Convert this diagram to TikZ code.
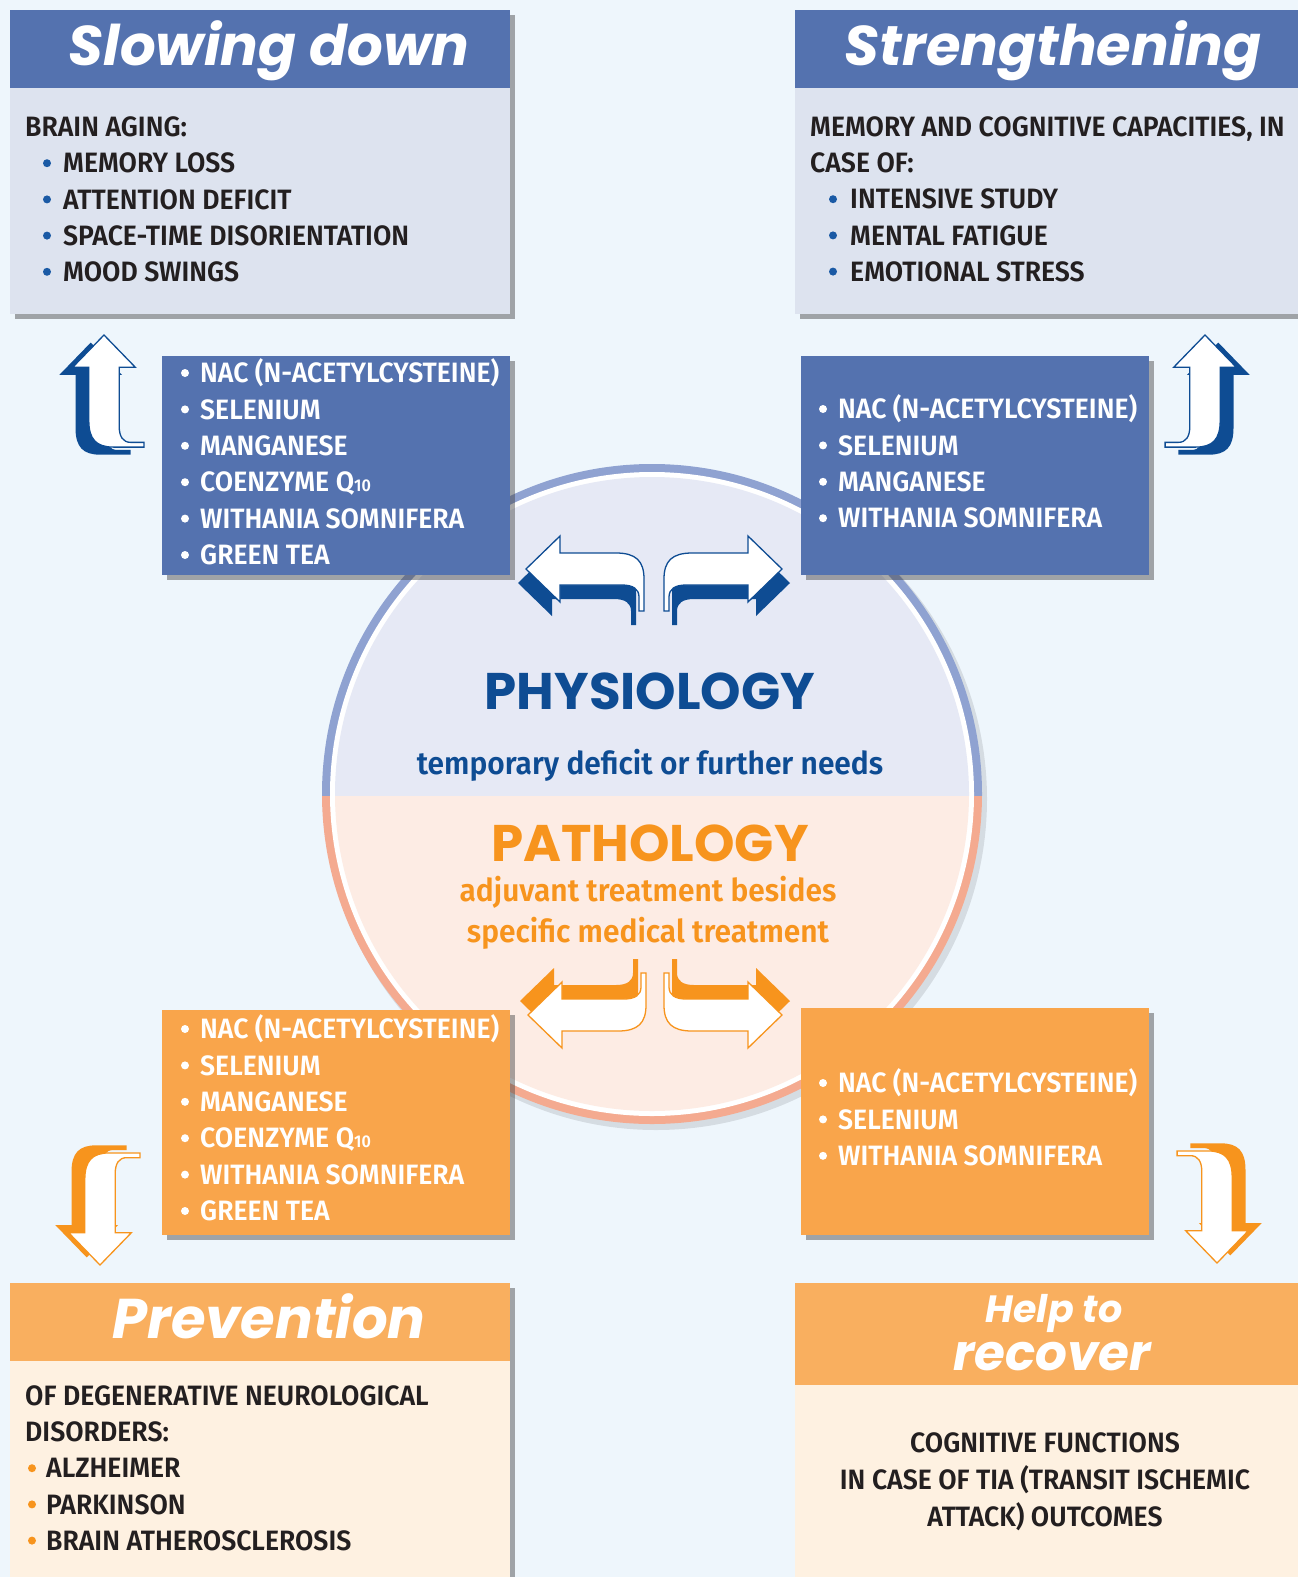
\documentclass[tikz,border=0pt]{standalone}
\usepackage{fontspec}
\setmainfont{Fira Sans}
\newfontfamily\bodyfont{Fira Sans}[UprightFont=* SemiBold, FakeStretch=0.95]
\newfontfamily\titlefont{Poppins}[UprightFont=* Bold, ItalicFont=* Bold Italic]
\usetikzlibrary{shadows, positioning, calc}

\definecolor{bgblue}{HTML}{EEF6FC}
\definecolor{headblue}{HTML}{5472AF}
\definecolor{paleblue}{HTML}{DDE3EF}
\definecolor{deepblue}{HTML}{0E4C93}
\definecolor{dotblue}{HTML}{1A5AA5}
\definecolor{headorange}{HTML}{F9AF5F}
\definecolor{boxorange}{HTML}{F9A54B}
\definecolor{paleorange}{HTML}{FEF1E1}
\definecolor{deeporange}{HTML}{F7941D}
\definecolor{ringblue}{HTML}{8FA2D1}
\definecolor{ringsalmon}{HTML}{F4AA90}
\definecolor{physfill}{HTML}{E6E9F5}
\definecolor{pathfill}{HTML}{FDECE4}
\definecolor{textdark}{HTML}{231F20}

% bent 3d arrow, tip at the origin, pointing left, tail bending down
\newcommand{\arrowpath}{(0,0) -- (34,-33) -- (34,-16) -- (90,-16)
  .. controls (110,-16) and (118,-8) .. (118,10) -- (118,42) -- (113,42) -- (113,28)
  .. controls (113,20) and (107,16) .. (96,16) -- (34,16) -- (34,33) -- cycle}
\newcommand{\bentarrow}[3]{%
  \begin{scope}[#1]
    \fill[#2, shift={#3}] \arrowpath;
    \filldraw[fill=white, draw=#2, line width=1.3pt] \arrowpath;
  \end{scope}}
\newcommand{\qten}{Q{\fontsize{17}{17}\selectfont 10}}

\begin{document}
\begin{tikzpicture}[x=1pt, y=-1pt,
  panel/.style 2 args={anchor=north west, inner sep=0pt, outer sep=0pt, minimum width=#1, minimum height=#2},
  boxshadow/.style={drop shadow={shadow xshift=5pt, shadow yshift=-5pt, fill=black!75, opacity=.45}},
  headtitle/.style={font=\titlefont\itshape\fontsize{56}{60}\selectfont, text=white, inner sep=0pt, anchor=base},
  listtext/.style={font=\bodyfont\fontsize{28}{32}\selectfont, text=textdark, anchor=west, inner sep=0pt, text height=19.5pt, text depth=0pt},
  onbox/.style={listtext, text=white},
  bigword/.style={font=\titlefont\fontsize{51.5}{52}\selectfont, inner sep=0pt, anchor=base},
  subword/.style={font=\bodyfont\fontsize{31.5}{36}\selectfont, inner sep=0pt, anchor=base}]

\clip (0,0) rectangle (1298,1577);
\fill[bgblue] (0,0) rectangle (1298,1577);

% central circle
\coordinate (cc) at (652,794);
\fill[black, opacity=.1] (656,799) circle (331);
\begin{scope}
  \clip (300,440) rectangle (1000,796);
  \fill[ringblue] (cc) circle (330);
  \fill[white] (cc) circle (322);
  \fill[physfill] (cc) circle (317);
\end{scope}
\begin{scope}
  \clip (300,796) rectangle (1000,1140);
  \fill[ringsalmon] (cc) circle (330);
  \fill[white] (cc) circle (322);
  \fill[pathfill] (cc) circle (317);
\end{scope}

% corner panels
\node[panel={500}{304}, fill=paleblue, boxshadow] (sdbox) at (10,10) {};
\node[panel={500}{78}, fill=headblue] (sdhead) at (10,10) {};
\node[headtitle] (sdtitle) at (269,65) {Slowing down};

\node[panel={503}{304}, fill=paleblue, boxshadow] (stbox) at (795,10) {};
\node[panel={503}{78}, fill=headblue] (sthead) at (795,10) {};
\node[headtitle] (sttitle) at (1053,65) {Strengthening};

\node[panel={500}{310}, fill=paleorange, boxshadow] (prbox) at (10,1283) {};
\node[panel={500}{78}, fill=headorange] (prhead) at (10,1283) {};
\node[headtitle] (prtitle) at (269,1338) {Prevention};

\node[panel={503}{310}, fill=paleorange, boxshadow] (rcbox) at (795,1283) {};
\node[panel={503}{102}, fill=headorange] (rchead) at (795,1283) {};
\node[headtitle, font=\titlefont\itshape\fontsize{38}{40}\selectfont] (rctitlea) at (1054,1322) {Help to};
\node[headtitle, font=\titlefont\itshape\fontsize{50}{54}\selectfont] (rctitleb) at (1052,1370) {recover};

% corner panel texts
\node[listtext] (sdlead) at (25,127) {BRAIN AGING:};
\foreach \txt [count=\i] in {MEMORY LOSS, ATTENTION DEFICIT, SPACE-TIME DISORIENTATION, MOOD SWINGS}{
  \fill[dotblue] (47,127+36.2*\i) circle (4);
  \node[listtext] (sd\i) at (63,127+36.2*\i) {\txt};
}
\node[listtext] (stlead) at (810,127) {MEMORY AND COGNITIVE CAPACITIES, IN};
\node[listtext] (stleadb) at (810,163) {CASE OF:};
\foreach \txt [count=\i] in {INTENSIVE STUDY, MENTAL FATIGUE, EMOTIONAL STRESS}{
  \fill[dotblue] (833,163+36.2*\i) circle (4);
  \node[listtext] (st\i) at (850,163+36.2*\i) {\txt};
}
\node[listtext] (prlead) at (25,1396) {OF DEGENERATIVE NEUROLOGICAL};
\node[listtext] (prleadb) at (25,1432) {DISORDERS:};
\foreach \txt [count=\i] in {ALZHEIMER, PARKINSON, BRAIN ATHEROSCLEROSIS}{
  \fill[deeporange] (32,1432+36.2*\i) circle (4);
  \node[listtext] (pr\i) at (46,1432+36.2*\i) {\txt};
}
\node[listtext, anchor=center] (rc1) at (1045,1443) {COGNITIVE FUNCTIONS};
\node[listtext, anchor=center] (rc2) at (1045,1480) {IN CASE OF TIA (TRANSIT ISCHEMIC};
\node[listtext, anchor=center] (rc3) at (1045,1517) {ATTACK) OUTCOMES};

% supplement panels
\node[panel={348}{219}, fill=headblue, boxshadow] (tlmid) at (162,356) {};
\node[panel={348}{219}, fill=headblue, boxshadow] (trmid) at (801,356) {};
\node[panel={348}{225}, fill=boxorange, boxshadow] (blmid) at (162,1010) {};
\node[panel={348}{227}, fill=boxorange, boxshadow] (brmid) at (801,1008) {};

\foreach \txt [count=\i] in {NAC (N-ACETYLCYSTEINE), SELENIUM, MANGANESE, COENZYME \qten, WITHANIA SOMNIFERA, GREEN TEA}{
  \fill[white] (185,336.6+36.4*\i) circle (4);
  \node[onbox] (tl\i) at (200,336.6+36.4*\i) {\txt};
  \fill[white] (185,992.6+36.4*\i) circle (4);
  \node[onbox] (bl\i) at (200,992.6+36.4*\i) {\txt};
}
\foreach \txt [count=\i] in {NAC (N-ACETYLCYSTEINE), SELENIUM, MANGANESE, WITHANIA SOMNIFERA}{
  \fill[white] (823,372.6+36.4*\i) circle (4);
  \node[onbox] (tr\i) at (838,372.6+36.4*\i) {\txt};
}
\foreach \txt [count=\i] in {NAC (N-ACETYLCYSTEINE), SELENIUM, WITHANIA SOMNIFERA}{
  \fill[white] (823,1046.6+36.4*\i) circle (4);
  \node[onbox] (br\i) at (838,1046.6+36.4*\i) {\txt};
}

% circle texts
\node[bigword, text=deepblue] (physio) at (650,709) {PHYSIOLOGY};
\node[subword, text=deepblue] (physub) at (650,774) {temporary deficit or further needs};
\node[bigword, text=deeporange] (patho) at (650,861) {PATHOLOGY};
\node[subword, text=deeporange] (pathsuba) at (648,901) {adjuvant treatment besides};
\node[subword, text=deeporange] (pathsubb) at (648,942) {specific medical treatment};

% arrows round the circle
\bentarrow{shift={(526,569)}}{deepblue}{(-8,14)}
\bentarrow{shift={(782,569)}, xscale=-1}{deepblue}{(-8,14)}
\bentarrow{shift={(528,1015)}, yscale=-1}{deeporange}{(-8,14)}
\bentarrow{shift={(782,1015)}, xscale=-1, yscale=-1}{deeporange}{(-8,14)}

% arrows to the corner panels
\bentarrow{shift={(104,335)}, rotate=90, xscale=-1, scale=.95}{deepblue}{(8,-14)}
\bentarrow{shift={(1205,335)}, rotate=-90, scale=.95}{deepblue}{(8,-14)}
\bentarrow{shift={(100,1265)}, rotate=90, scale=.95}{deeporange}{(8,-14)}
\bentarrow{shift={(1217,1263)}, rotate=-90, xscale=-1, scale=.95}{deeporange}{(8,-14)}

\end{tikzpicture}
\end{document}
